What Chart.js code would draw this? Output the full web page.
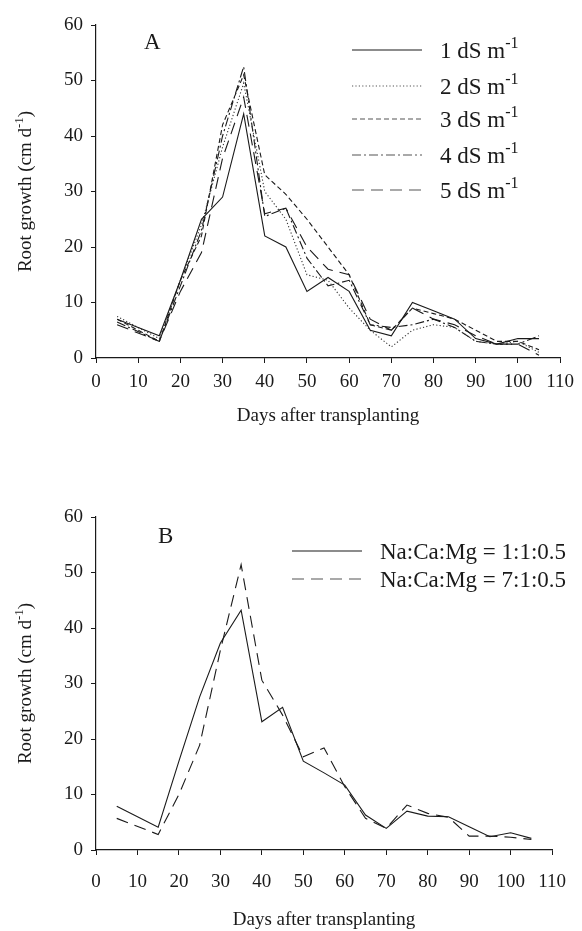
<!DOCTYPE html>
<html>
<head>
<meta charset="utf-8">
<script src="https://cdn.jsdelivr.net/npm/chart.js@4"></script>
<style>
  html, body { margin:0; padding:0; background:#fff; }
  #wrap { position:relative; width:582px; height:931px; }
  .box { position:absolute; left:0; width:582px; }
</style>
</head>
<body>
<div id="wrap">
  <div class="box" style="top:0;height:465px"><canvas id="cA"></canvas></div>
  <div class="box" style="top:465px;height:466px"><canvas id="cB"></canvas></div>
</div>
<script>
// ---- data ----
const days = [5, 15, 20, 25, 30, 35, 40, 45, 50, 55, 60, 65, 70, 75, 80, 85, 90, 95, 100, 105];

const ec1 = [7.0, 4.0, 14.0, 25.0, 29.0, 44.0, 22.0, 20.0, 12.0, 14.5, 12.0, 5.0, 4.0, 10.0, 8.5, 7.0, 3.5, 2.5, 3.5, 3.5];
const ec2 = [7.5, 3.5, 14.0, 24.0, 38.0, 49.5, 30.0, 25.0, 15.0, 14.0, 9.0, 5.0, 2.0, 5.0, 6.0, 5.5, 3.0, 2.5, 3.0, 1.0];
const ec3 = [7.0, 3.0, 14.0, 22.0, 42.0, 51.0, 33.0, 29.5, 25.0, 20.0, 15.0, 6.0, 5.0, 9.0, 8.0, 7.0, 5.0, 3.0, 3.0, 1.5];
const ec4 = [6.5, 3.0, 13.0, 23.0, 40.0, 52.5, 25.5, 27.0, 18.0, 13.0, 14.0, 6.0, 5.5, 6.0, 7.0, 5.5, 3.0, 2.5, 2.5, 4.0];
const ec5 = [6.0, 3.0, 12.0, 19.0, 36.0, 47.0, 26.0, 27.0, 20.0, 16.0, 15.0, 7.0, 5.0, 9.0, 7.0, 6.0, 4.0, 2.5, 2.5, 0.5];

const ratio1 = [7.9, 4.1, 16.0, 27.6, 37.3, 43.2, 23.1, 25.7, 16.0, 13.9, 11.7, 6.3, 3.9, 7.0, 6.1, 6.0, 4.2, 2.4, 3.1, 2.1];
const ratio7 = [5.7, 2.8, 10.0, 18.9, 36.0, 51.4, 30.6, 24.3, 16.8, 18.4, 11.4, 5.7, 3.9, 8.1, 6.6, 5.9, 2.5, 2.5, 2.3, 1.9];

const labelsA = ['1 dS m', '2 dS m', '3 dS m', '4 dS m', '5 dS m'];
const labelsB = ['Na:Ca:Mg = 1:1:0.5', 'Na:Ca:Mg = 7:1:0.5'];
const yTitle = 'Root growth (cm d';
const xTitle = 'Days after transplanting';

// ---- styles ----
const FONT = '"Liberation Serif", "Times New Roman", serif';
const INK = '#1a1a1a';
const dashesA = [[], [1.2, 2.2], [5, 3], [9, 3, 2, 3], [12, 7]];
const dashesB = [[], [12, 7]];

function pts(ys) { return days.map((d, i) => ({ x: d, y: ys[i] })); }

function mkDatasets(series, dashes) {
  return series.map((s, i) => ({
    data: pts(s),
    borderColor: i === 1 && dashes === dashesA ? '#333' : INK,
    borderWidth: 1.1,
    borderDash: dashes[i],
    pointRadius: 0,
    tension: 0,
    fill: false
  }));
}

// draw text with optional superscript part
function richWidth(ctx, main, sup, tail, size) {
  ctx.font = size + 'px ' + FONT;
  let w = ctx.measureText(main).width;
  ctx.font = Math.round(size * 0.68) + 'px ' + FONT;
  w += sup ? ctx.measureText(sup).width : 0;
  ctx.font = size + 'px ' + FONT;
  w += tail ? ctx.measureText(tail).width : 0;
  return w;
}
function drawRich(ctx, main, sup, tail, x, y, size) {
  ctx.textAlign = 'left';
  ctx.textBaseline = 'alphabetic';
  ctx.fillStyle = INK;
  ctx.font = size + 'px ' + FONT;
  ctx.fillText(main, x, y);
  x += ctx.measureText(main).width;
  if (sup) {
    ctx.font = Math.round(size * 0.68) + 'px ' + FONT;
    ctx.fillText(sup, x, y - size * 0.42);
    x += ctx.measureText(sup).width;
  }
  if (tail) {
    ctx.font = size + 'px ' + FONT;
    ctx.fillText(tail, x, y);
  }
}

function decorPlugin(cfg) {
  return {
    id: 'decor' + cfg.letter,
    afterDraw(chart) {
      const ctx = chart.ctx;
      const ca = chart.chartArea;
      ctx.save();
      // panel letter
      ctx.font = cfg.letterSize + 'px ' + FONT;
      ctx.fillStyle = INK;
      ctx.textBaseline = 'alphabetic';
      ctx.textAlign = 'left';
      ctx.fillText(cfg.letter, cfg.letterX, cfg.letterY);
      // y title (rotated)
      const ts = 19;
      const w = richWidth(ctx, yTitle, '-1', ')', ts);
      ctx.save();
      ctx.translate(cfg.yTitleX, (ca.top + ca.bottom) / 2);
      ctx.rotate(-Math.PI / 2);
      drawRich(ctx, yTitle, '-1', ')', -w / 2, 0, ts);
      ctx.restore();
      // legend
      cfg.legend.forEach((it, i) => {
        const y = cfg.legY[i];
        ctx.save();
        ctx.strokeStyle = it.color;
        ctx.lineWidth = 1.2;
        ctx.setLineDash(it.dash);
        ctx.beginPath();
        ctx.moveTo(cfg.legX0, y);
        ctx.lineTo(cfg.legX1, y);
        ctx.stroke();
        ctx.restore();
        drawRich(ctx, it.label, it.sup, '', cfg.legTextX, y + 8, cfg.legSize);
      });
      ctx.restore();
    }
  };
}

function mkChart(id, datasets, cfg) {
  return new Chart(document.getElementById(id), {
    type: 'line',
    data: { datasets },
    options: {
      responsive: true,
      maintainAspectRatio: false,
      animation: false,
      layout: { padding: { left: 0, right: 20, top: cfg.top, bottom: 0 } },
      plugins: { legend: { display: false }, tooltip: { enabled: false } },
      scales: {
        x: {
          type: 'linear', min: 0, max: 110,
          ticks: { stepSize: 10, color: INK, font: { family: FONT, size: 19 }, padding: cfg.xTickPad, maxRotation: 0 },
          grid: { display: true, drawOnChartArea: false, drawTicks: true, tickLength: 5, color: INK, lineWidth: 1 },
          border: { color: INK, width: 1.2 },
          title: { display: true, text: xTitle, color: INK, font: { family: FONT, size: 19 }, padding: { top: 0, bottom: cfg.xTitlePad } },
          afterFit: s => { s.height = cfg.xHeight; }
        },
        y: {
          min: 0, max: 60,
          ticks: { stepSize: 10, color: INK, font: { family: FONT, size: 19 }, padding: 8 },
          grid: { display: true, drawOnChartArea: false, drawTicks: true, tickLength: 5, color: INK, lineWidth: 1 },
          border: { color: INK, width: 1.2 },
          afterFit: s => { s.width = 96; }
        }
      }
    },
    plugins: [decorPlugin(cfg)]
  });
}

mkChart('cA', mkDatasets([ec1, ec2, ec3, ec4, ec5], dashesA), {
  top: 25, xHeight: 107, xTickPad: 8, xTitlePad: 38,
  letter: 'A', letterSize: 23, letterX: 144, letterY: 49, yTitleX: 31,
  legX0: 352, legX1: 422, legTextX: 440, legSize: 23,
  legY: [50, 86, 119, 155, 190],
  legend: labelsA.map((l, i) => ({ label: l, sup: '-1', dash: dashesA[i], color: i === 0 ? INK : '#555' }))
});

mkChart('cB', mkDatasets([ratio1, ratio7], dashesB), {
  top: 52, xHeight: 81, xTickPad: 16, xTitlePad: 0,
  letter: 'B', letterSize: 23, letterX: 158, letterY: 543 - 465, yTitleX: 31,
  legX0: 292, legX1: 362, legTextX: 380, legSize: 23,
  legY: [551 - 465, 579 - 465],
  legend: labelsB.map((l, i) => ({ label: l, sup: '', dash: dashesB[i], color: i === 0 ? INK : '#555' }))
});
</script>
</body>
</html>
